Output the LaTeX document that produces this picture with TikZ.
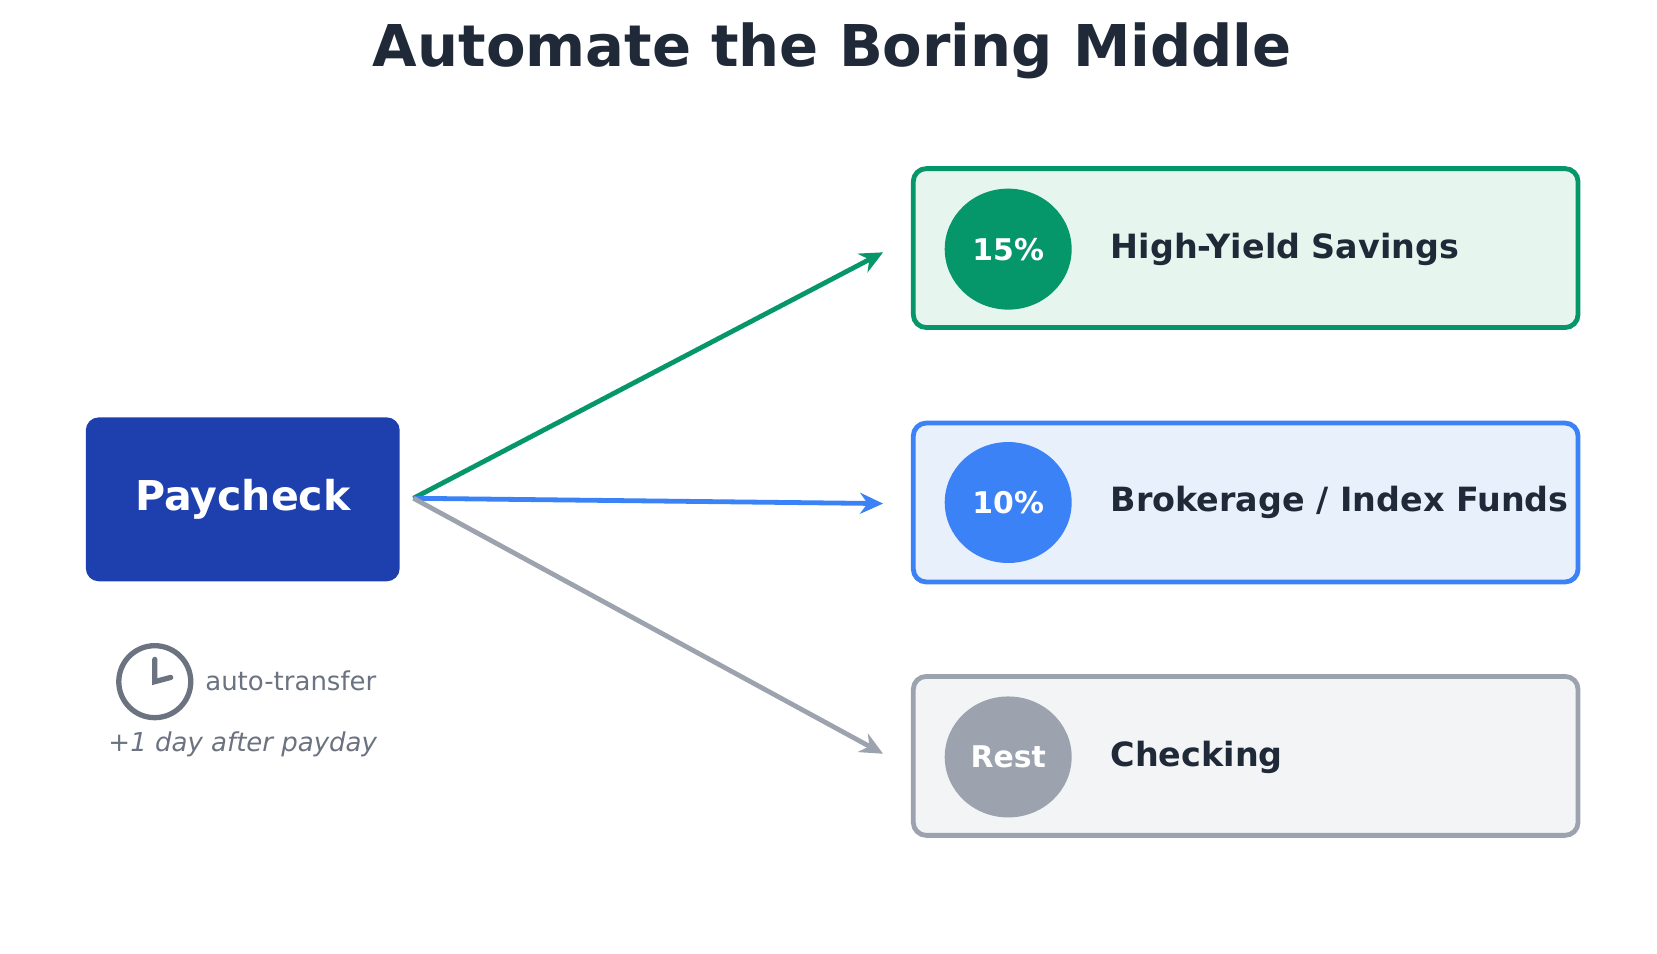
\documentclass[tikz,border=0pt]{standalone}
\usepackage{fontspec}
\setmainfont{DejaVu Sans}
\usetikzlibrary{arrows.meta,shapes.geometric}
\definecolor{ink}{HTML}{1F2937}
\definecolor{navy}{HTML}{1E40AF}
\definecolor{grn}{HTML}{059669}
\definecolor{grnbg}{HTML}{E6F5EE}
\definecolor{blu}{HTML}{3B82F6}
\definecolor{blubg}{HTML}{E8F0FC}
\definecolor{gry}{HTML}{9CA3AF}
\definecolor{grybg}{HTML}{F2F4F6}
\definecolor{slate}{HTML}{6B7280}
\begin{document}
\begin{tikzpicture}[x=0.0106cm,y=-0.0106cm,
        acct/.style = {shape=rectangle, rounded corners=0.13cm, draw,
          line width=0.048cm, minimum width=6.65cm, minimum height=1.59cm},
        badge/.style = {shape=ellipse, minimum width=1.27cm, minimum height=1.21cm,
          inner sep=0, text=white, font=\bfseries\fontsize{8.5}{10}\selectfont},
        lbl/.style = {anchor=west, text=ink, font=\bfseries\fontsize{9.5}{11}\selectfont},
        flow/.style = {line width=0.048cm, -{Stealth[length=0.23cm,width=0.21cm]}}]
        \useasboundingbox (0,0) rectangle (1563,899);
        \node[text=ink, font=\bfseries\fontsize{16.4}{19}\selectfont] (title) at (785,48) {Automate the Boring Middle};
        % source
        \node[fill=navy, rounded corners=0.13cm, minimum width=3.14cm, minimum height=1.64cm,
          text=white, font=\bfseries\fontsize{11.7}{14}\selectfont] (pay) at (229,471) {Paycheck};
        % accounts
        \node[acct, draw=grn, fill=grnbg] (hys) at (1175,234) {};
        \node[acct, draw=blu, fill=blubg] (brk) at (1175,474) {};
        \node[acct, draw=gry, fill=grybg] (chk) at (1175,713) {};
        \node[badge, fill=grn] (b1) at (951,235) {15\%};
        \node[badge, fill=blu] (b2) at (951,474) {10\%};
        \node[badge, fill=gry] (b3) at (951,714) {Rest};
        \node[lbl] (l1) at (1036,235) {High-Yield Savings};
        \node[lbl] (l2) at (1036,474) {Brokerage / Index Funds};
        \node[lbl] (l3) at (1036,714) {Checking};
        % arrows
        \coordinate (src) at (390,470);
        \coordinate (t1) at (833,238);
        \coordinate (t2) at (833,475);
        \coordinate (t3) at (833,711);
        \draw[flow, grn] (src) -- (t1);
        \draw[flow, blu] (src) -- (t2);
        \draw[flow, gry] (src) -- (t3);
        % clock note
        \node[circle, draw=slate, line width=0.053cm, minimum size=0.72cm, inner sep=0] (clk) at (146,643) {};
        \draw[slate, line width=0.053cm, line cap=round] (146,622) -- (clk.center) -- (161,639);
        \node[anchor=west, text=slate, inner sep=0, font=\fontsize{7.4}{9}\selectfont] (auto) at (193,642) {auto-transfer};
        \node[text=slate, font=\itshape\fontsize{7.4}{9}\selectfont] (when) at (229,702) {+1 day after payday};
\end{tikzpicture}
\end{document}
